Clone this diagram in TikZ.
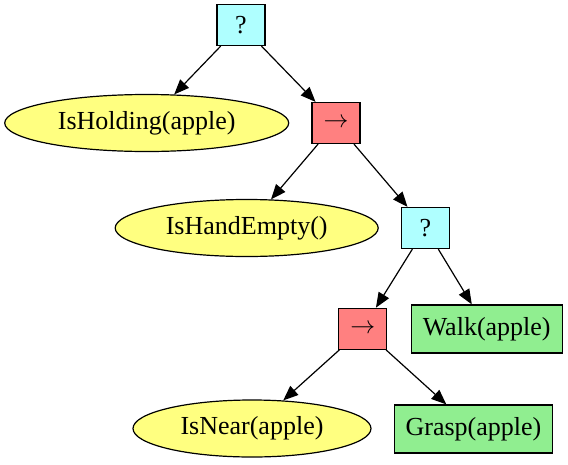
\documentclass[tikz,border=0pt]{standalone}
\usepackage{fontspec}
\setmainfont{Liberation Serif}
\usepackage{xcolor}
\usetikzlibrary{arrows.meta}
\usetikzlibrary{shapes.geometric}

\definecolor{fbcyan}{RGB}{175,255,255}
\definecolor{seqred}{RGB}{255,128,128}
\definecolor{condyellow}{RGB}{255,255,128}
\definecolor{actgreen}{RGB}{144,238,144}

\begin{document}
\begin{tikzpicture}[x=1pt,y=-1pt,
		every node/.style={draw,line width=1.2pt,font=\fontsize{26}{30}\selectfont},
		ctrl/.style={rectangle,minimum width=48pt,minimum height=41pt,inner sep=0pt},
		fallback/.style={ctrl,fill=fbcyan},
		sequence/.style={ctrl,fill=seqred},
		condition/.style={ellipse,fill=condyellow,minimum height=57pt,inner sep=0pt},
		action/.style={rectangle,fill=actgreen,minimum height=48pt,inner xsep=11.5pt}]
				\useasboundingbox (0,0) rectangle (568,464);
				\node[fallback] (fb1) at (241,25){?};
				\node[condition,minimum width=284pt] (holding) at (146.7,123){IsHolding(apple)};
				\node[sequence] (seq1) at (336,123){$\rightarrow$};
				\node[condition,minimum width=263pt] (handempty) at (246.7,228){IsHandEmpty()};
				\node[fallback] (fb2) at (425.5,228){?};
				\node[sequence] (seq2) at (362.8,328.8){$\rightarrow$};
				\node[action] (walk) at (486.7,329){Walk(apple)};
				\node[condition,minimum width=238pt] (near) at (252,428.5){IsNear(apple)};
				\node[action] (grasp) at (473.5,429){Grasp(apple)};
				\begin{scope}[line width=1.2pt,-{Triangle[length=15pt,width=12pt]}]
				\draw (fb1)--(holding);
				\draw (fb1)--(seq1);
				\draw (seq1)--(handempty);
				\draw (seq1)--(fb2);
				\draw (fb2)--(seq2);
				\draw (fb2)--(walk);
				\draw (seq2)--(near);
				\draw (seq2)--(grasp);
				\end{scope}
			\end{tikzpicture}
\end{document}
